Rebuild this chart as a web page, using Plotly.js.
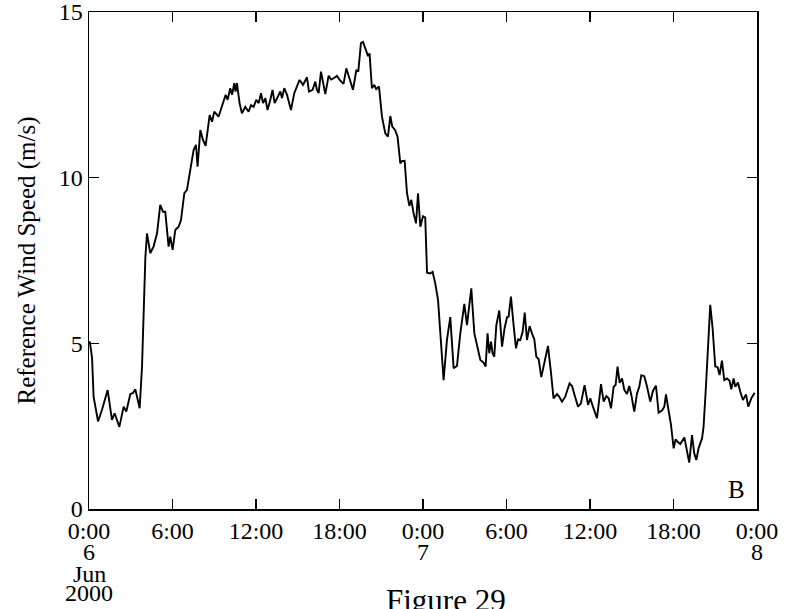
<!DOCTYPE html>
<html>
<head>
<meta charset="utf-8">
<script src="https://cdn.plot.ly/plotly-3.0.1.min.js"></script>
<style>html,body{margin:0;padding:0;background:#fff;}#chart{width:789px;height:609px;}</style>
</head>
<body>
<div id="chart"></div>
<script>
// Hours since 0:00, 6 Jun 2000
const hours = [0.00,0.06,0.22,0.33,0.65,0.93,1.34,1.65,1.84,2.18,2.49,2.68,2.97,3.16,3.33,3.64,3.81,3.92,4.05,4.17,
4.40,4.64,4.89,5.12,5.32,5.48,5.72,5.84,6.01,6.20,6.44,6.61,6.85,7.04,7.28,7.52,7.69,7.80,8.00,8.19,
8.38,8.67,8.84,9.00,9.31,9.56,9.82,9.96,10.15,10.28,10.44,10.53,10.63,10.82,10.99,11.23,11.47,11.64,11.83,12.02,
12.19,12.36,12.50,12.67,12.83,13.03,13.19,13.34,13.55,13.75,13.87,14.03,14.23,14.51,14.75,15.13,15.38,15.66,15.81,16.07,
16.26,16.38,16.50,16.67,16.81,16.98,17.22,17.39,17.58,17.82,18.01,18.29,18.49,18.73,18.97,19.21,19.35,19.54,19.69,19.90,
20.05,20.16,20.33,20.50,20.64,20.84,21.05,21.29,21.48,21.65,21.79,21.99,22.17,22.37,22.49,22.68,22.85,23.02,23.16,23.32,
23.50,23.64,23.81,24.00,24.16,24.29,24.53,24.69,24.88,25.08,25.24,25.48,25.72,25.96,26.20,26.44,26.68,26.97,27.16,27.30,
27.47,27.69,27.92,28.12,28.35,28.50,28.64,28.76,28.89,29.00,29.12,29.27,29.48,29.68,29.86,30.04,30.15,30.32,30.51,30.68,
30.83,30.99,31.16,31.31,31.47,31.66,31.83,32.00,32.14,32.31,32.50,32.72,32.98,33.20,33.38,33.63,33.79,33.99,34.22,34.53,
34.71,34.89,35.14,35.35,35.61,35.86,36.02,36.21,36.50,36.69,36.79,36.98,37.17,37.34,37.51,37.70,37.84,37.98,38.13,38.30,
38.47,38.66,38.82,38.97,39.18,39.38,39.54,39.69,39.90,40.10,40.33,40.53,40.74,40.93,41.17,41.34,41.46,41.60,41.82,42.01,
42.15,42.29,42.49,42.78,42.97,43.13,43.33,43.49,43.64,43.80,44.05,44.16,44.33,44.48,44.64,44.81,45.00,45.17,45.31,45.48,
45.65,45.84,46.03,46.15,46.32,46.44,46.63,46.80,46.99,47.21,47.37,47.59,47.83];
const windSpeed = [5.00,5.05,4.56,3.39,2.64,2.99,3.59,2.69,2.89,2.48,3.09,2.94,3.47,3.50,3.61,3.04,4.30,6.10,7.60,8.32,
7.72,7.92,8.32,9.18,8.97,8.97,7.92,8.22,7.82,8.42,8.52,8.72,9.53,9.63,10.23,10.84,10.99,10.33,11.44,11.14,
10.96,11.89,11.69,11.99,11.84,12.14,12.50,12.35,12.70,12.50,12.85,12.60,12.85,12.25,11.94,12.14,11.99,12.19,12.14,12.35,
12.25,12.55,12.25,12.40,12.04,12.35,12.65,12.25,12.45,12.60,12.40,12.70,12.50,12.04,12.55,12.95,12.80,13.03,12.60,12.65,
12.90,12.65,12.55,13.20,12.90,12.52,13.08,12.96,13.00,13.07,12.95,12.83,13.30,12.95,12.65,13.25,13.20,14.06,14.10,13.85,
13.67,13.75,12.70,12.80,12.67,12.75,11.84,11.34,11.24,11.86,11.54,11.44,11.24,10.43,10.50,10.51,9.53,9.15,9.33,8.93,
8.62,9.53,8.52,8.84,8.80,7.13,7.11,7.16,6.81,6.31,5.40,3.89,5.10,5.79,4.25,4.32,5.30,6.19,5.55,6.01,
6.66,5.30,4.90,4.50,4.42,4.30,5.30,4.70,5.05,4.70,4.60,5.55,5.99,4.90,5.45,5.79,5.80,6.41,5.55,4.85,
5.12,5.10,5.35,5.93,5.10,5.52,5.30,5.12,4.60,4.52,3.98,4.40,4.92,4.10,3.34,3.47,3.39,3.24,3.39,3.79,
3.71,3.44,3.09,3.19,3.74,3.14,3.34,3.09,2.74,3.39,3.77,3.24,3.41,3.34,3.04,3.69,3.74,4.30,3.81,3.94,
3.59,3.47,3.71,3.44,2.94,3.49,3.69,4.04,4.01,3.69,3.24,3.57,3.72,2.91,2.97,3.09,3.46,3.09,2.54,1.83,
2.10,2.03,1.96,2.16,1.68,1.40,2.23,1.68,1.48,1.83,2.13,2.48,3.69,4.80,6.16,5.45,4.30,4.28,4.04,4.48,
3.89,3.94,3.87,3.61,3.94,3.69,3.82,3.54,3.29,3.46,3.09,3.34,3.51];

const xTickVals = [0,6,12,18,24,30,36,42,48];
const xTickText = ["0:00","6:00","12:00","18:00","0:00","6:00","12:00","18:00","0:00"];
const yTickVals = [0,5,10,15];
const yTickText = ["0","5","10","15"];
const dayHours = [0,24,48];
const dayLabels = ["6","7","8"];
const monthLabel = "Jun";
const yearLabel = "2000";
const yTitle = "Reference Wind Speed (m/s)";
const figureLabel = "Figure 29";
const panelLabel = "B";

const serif = "Liberation Serif, Times New Roman, serif";
const trace = {
  x: hours, y: windSpeed, type: "scatter", mode: "lines",
  line: {color: "#000", width: 1.9}, hoverinfo: "skip"
};

const annotations = [];
dayHours.forEach((h, i) => {
  annotations.push({x: h, y: -0.086, xref: "x", yref: "paper", text: dayLabels[i], showarrow: false,
    xanchor: "center", yanchor: "middle", font: {family: serif, size: 24, color: "#000"}});
});
annotations.push({x: 0, y: -0.131, xref: "x", yref: "paper", text: monthLabel, showarrow: false,
  xanchor: "center", yanchor: "middle", font: {family: serif, size: 24, color: "#000"}});
annotations.push({x: 0, y: -0.170, xref: "x", yref: "paper", text: yearLabel, showarrow: false,
  xanchor: "center", yanchor: "middle", font: {family: serif, size: 24, color: "#000"}});
annotations.push({x: 0.535, y: -0.145, xref: "paper", yref: "paper", text: figureLabel, showarrow: false,
  xanchor: "center", yanchor: "top", font: {family: serif, size: 31, color: "#000"}});
annotations.push({x: 0.97, y: 0.04, xref: "paper", yref: "paper", text: panelLabel, showarrow: false,
  xanchor: "center", yanchor: "middle", font: {family: serif, size: 25, color: "#000"}});

const layout = {
  width: 789, height: 609,
  margin: {l: 89, r: 32, t: 12, b: 100, pad: 0},
  paper_bgcolor: "#fff", plot_bgcolor: "#fff",
  showlegend: false,
  font: {family: serif, size: 24, color: "#000"},
  xaxis: {
    range: [0, 48], tickmode: "array", tickvals: xTickVals, ticktext: xTickText,
    ticks: "inside", ticklen: 10, tickwidth: 1.5, tickcolor: "#000",
    showline: true, linecolor: "#000", linewidth: 1.5, mirror: "ticks",
    showgrid: false, zeroline: false, fixedrange: true, ticklabeloverflow: "allow",
    tickfont: {family: serif, size: 24, color: "#000"}
  },
  yaxis: {
    range: [0, 15], tickmode: "array", tickvals: yTickVals, ticktext: yTickText,
    ticks: "inside", ticklen: 10, tickwidth: 1.5, tickcolor: "#000",
    showline: true, linecolor: "#000", linewidth: 1.5, mirror: "ticks",
    showgrid: false, zeroline: false, fixedrange: true, ticklabeloverflow: "allow",
    tickfont: {family: serif, size: 24, color: "#000"},
    title: {text: yTitle, font: {family: serif, size: 25, color: "#000"}, standoff: 16}
  },
  annotations: annotations
};

Plotly.newPlot("chart", [trace], layout, {displayModeBar: false, staticPlot: true});
</script>
</body>
</html>
